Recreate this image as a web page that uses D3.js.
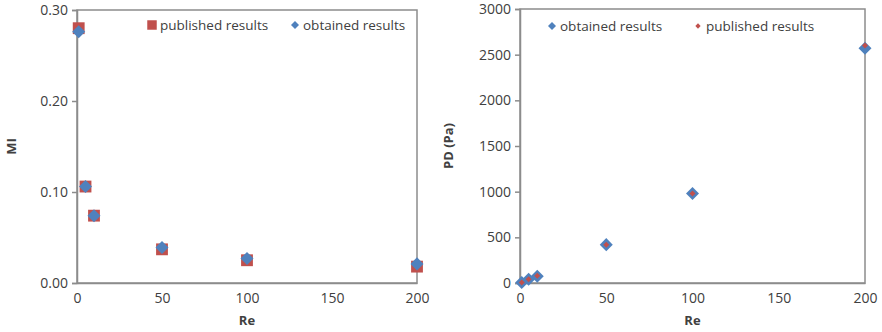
<!DOCTYPE html>
<html>
<head>
<meta charset="utf-8">
<script src="https://cdn.jsdelivr.net/npm/d3@7"></script>
<style>
  body { margin: 0; background: #fff; }
  svg { display: block; font-family: "Open Sans", sans-serif; }
</style>
</head>
<body>
<svg id="chart" width="882" height="332"></svg>
<script>
const reValues = [1, 5, 10, 50, 100, 200];
const xTicks = [0, 50, 100, 150, 200];

// MI chart
const miPublished = [0.280, 0.106, 0.074, 0.037, 0.025, 0.018];
const miObtained = [0.276, 0.106, 0.074, 0.039, 0.027, 0.021];
const miTicks = [0, 0.10, 0.20, 0.30];

// PD chart
const pdObtained = [5, 40, 75, 420, 980, 2570];
const pdPublished = [5, 40, 80, 420, 980, 2600];
const pdTicks = [0, 500, 1000, 1500, 2000, 2500, 3000];

const red = '#c0504d';
const blue = '#4f81bd';
const frame = '#8c8c8c';
const textColor = '#404040';

const svg = d3.select('#chart');

// diamond = square turned 45 degrees
const rot = type => (type === 'diamond' ? ' rotate(45)' : '');

function drawPanel(opt) {
  const g = svg.append('g');
  const x = d3.scaleLinear().domain([0, 200]).range([opt.left, opt.right]);
  const y = d3.scaleLinear().domain(opt.yDomain).range([opt.bottom, opt.top]);

  // frame
  g.append('rect')
    .attr('x', opt.left).attr('y', opt.top)
    .attr('width', opt.right - opt.left).attr('height', opt.bottom - opt.top)
    .attr('fill', 'none').attr('stroke', frame).attr('stroke-width', 1.5);

  // y axis
  const yAxis = g.append('g')
    .attr('transform', `translate(${opt.left},0)`)
    .call(d3.axisLeft(y).tickValues(opt.yTicks).tickFormat(opt.yFormat).tickSize(5).tickPadding(4));
  yAxis.select('.domain').attr('stroke', frame).attr('stroke-width', 1.5);
  yAxis.selectAll('line').attr('stroke', frame).attr('stroke-width', 1.5);
  yAxis.selectAll('text').attr('fill', textColor).style('font-size', '14px').style('font-family', '"Open Sans", sans-serif');

  // x axis
  const xAxis = g.append('g')
    .attr('transform', `translate(0,${opt.bottom})`)
    .call(d3.axisBottom(x).tickValues(xTicks).tickFormat(d3.format('d')).tickSize(0).tickPadding(10));
  xAxis.select('.domain').attr('stroke', frame).attr('stroke-width', 1.5);
  xAxis.selectAll('text').attr('fill', textColor).style('font-size', '14px').style('font-family', '"Open Sans", sans-serif');

  // axis titles
  g.append('text')
    .attr('transform', `translate(${opt.yTitleX},${(opt.top + opt.bottom) / 2}) rotate(-90)`)
    .attr('text-anchor', 'middle')
    .attr('font-weight', 'bold').attr('font-size', 13).attr('fill', textColor)
    .text(opt.yTitle);
  g.append('text')
    .attr('x', (opt.left + opt.right) / 2).attr('y', 325)
    .attr('text-anchor', 'middle')
    .attr('font-weight', 'bold').attr('font-size', 13).attr('fill', textColor)
    .text('Re');

  // series, in drawing order
  opt.series.forEach(s => {
    g.append('g').selectAll('path')
      .data(reValues.map((r, i) => [r, s.values[i]]))
      .enter().append('path')
      .attr('d', d3.symbol().type(d3.symbolSquare).size(s.size))
      .attr('transform', d => `translate(${x(d[0])},${y(d[1])})` + rot(s.type))
      .attr('fill', s.color);
  });

  // legend
  opt.legend.forEach(l => {
    g.append('path')
      .attr('d', d3.symbol().type(d3.symbolSquare).size(l.size))
      .attr('transform', `translate(${l.x},${opt.legendY})` + rot(l.type))
      .attr('fill', l.color);
    g.append('text')
      .attr('x', l.x + 8).attr('y', opt.legendY)
      .attr('dy', '0.35em')
      .attr('font-size', 13.5).attr('fill', textColor)
      .text(l.label);
  });
}

drawPanel({
  left: 77, right: 417, top: 10, bottom: 283,
  yDomain: [0, 0.30], yTicks: miTicks, yFormat: d3.format('.2f'),
  yTitle: 'MI', yTitleX: 16,
  series: [
    { values: miPublished, type: 'square', size: 140, color: red },
    { values: miObtained, type: 'diamond', size: 85, color: blue }
  ],
  legendY: 25,
  legend: [
    { x: 152, label: 'published results', type: 'square', size: 90, color: red },
    { x: 295, label: 'obtained results', type: 'diamond', size: 32, color: blue }
  ]
});

drawPanel({
  left: 520, right: 865, top: 9, bottom: 283,
  yDomain: [0, 3000], yTicks: pdTicks, yFormat: d3.format('d'),
  yTitle: 'PD (Pa)', yTitleX: 453,
  series: [
    { values: pdObtained, type: 'diamond', size: 85, color: blue },
    { values: pdPublished, type: 'diamond', size: 18, color: red }
  ],
  legendY: 26,
  legend: [
    { x: 552, label: 'obtained results', type: 'diamond', size: 32, color: blue },
    { x: 698, label: 'published results', type: 'diamond', size: 14, color: red }
  ]
});
</script>
</body>
</html>
